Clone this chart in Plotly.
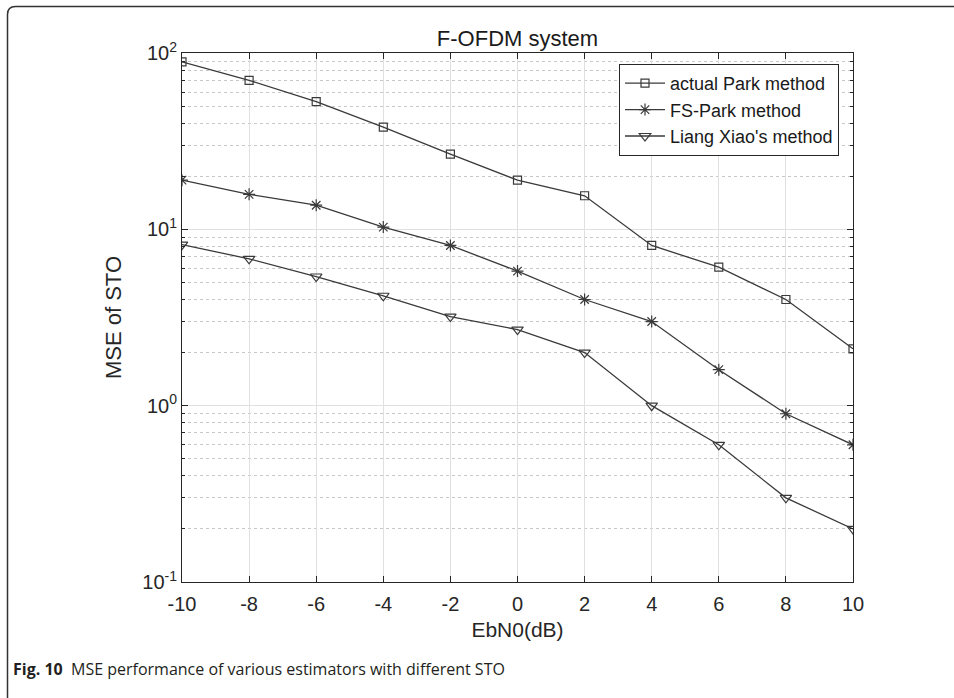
import plotly.graph_objects as go

ebn0 = [-10, -8, -6, -4, -2, 0, 2, 4, 6, 8, 10]
park = [89, 70, 53, 38, 26.7, 19, 15.5, 8.1, 6.1, 4.0, 2.1]
fs_park = [19, 15.8, 13.7, 10.3, 8.1, 5.8, 4.0, 3.0, 1.6, 0.9, 0.6]
liang = [8.2, 6.8, 5.4, 4.2, 3.2, 2.7, 2.0, 1.0, 0.6, 0.3, 0.2]

names = ["actual Park method", "FS-Park method", "Liang Xiao's method"]
symbols = ["square-open", "asterisk-open", "triangle-down-open"]
sizes = [8, 10, 10]

W, H = 954, 698
L, R, T, B = 182, 101, 53, 116
pw, ph = W - L - R, H - T - B
line_col = "#3a3a3a"
font_fam = "Liberation Sans, Arial, sans-serif"

fig = go.Figure()
for ys, nm, sym, sz in zip([park, fs_park, liang], names, symbols, sizes):
    fig.add_trace(go.Scatter(
        x=ebn0, y=ys, name=nm, mode="lines+markers",
        line=dict(color=line_col, width=1.3),
        marker=dict(symbol=sym, size=sz, color=line_col, line=dict(color="#111", width=1.2)),
    ))

ytick_vals = [0.1, 1, 10, 100]
ytick_text = ["10<sup>-1</sup>", "10<sup>0</sup>", "10<sup>1</sup>", "10<sup>2</sup>"]
minor_vals = [m * 10 ** e for e in (-1, 0, 1) for m in range(2, 10)]

fig.update_layout(
    width=W, height=H,
    margin=dict(l=L, r=R, t=T, b=B),
    paper_bgcolor="white", plot_bgcolor="white",
    font=dict(family=font_fam, size=20, color="#262626"),
    title=dict(text="F-OFDM system", x=(L + pw / 2) / W, xanchor="center",
               y=1 - 38 / H, yanchor="middle", font=dict(size=22, color="#1a1a1a")),
    showlegend=True,
    legend=dict(x=(839 - L) / pw, y=1 - (64 - T) / ph, xanchor="right", yanchor="top",
                bgcolor="white", bordercolor="#262626", borderwidth=1,
                font=dict(size=18, color="#1a1a1a"), tracegroupgap=0,
                itemwidth=40),
    xaxis=dict(
        range=[-10, 10], tickvals=ebn0, ticktext=[str(v) for v in ebn0],
        showline=True, linecolor="#262626", linewidth=1, mirror="allticks",
        ticks="inside", ticklen=6, tickcolor="#262626", ticklabelstandoff=4,
        showgrid=True, gridcolor="#e0e0e0", gridwidth=1, zeroline=False,
        title=dict(text="EbN0(dB)", font=dict(size=21), standoff=8),
        tickfont=dict(size=20),
    ),
    yaxis=dict(
        type="log", range=[-1, 2], tickvals=ytick_vals, ticktext=ytick_text,
        showline=True, linecolor="#262626", linewidth=1, mirror="allticks",
        ticks="inside", ticklen=6, tickcolor="#262626",
        showgrid=True, gridcolor="#e0e0e0", gridwidth=1, zeroline=False,
        minor=dict(tickvals=minor_vals, ticks="inside", ticklen=3, tickcolor="#262626",
                   showgrid=True, gridcolor="#c8c8c8", griddash="dot", gridwidth=1),
        title=dict(text="MSE of STO", font=dict(size=22), standoff=14),
        tickfont=dict(size=20),
    ),
)

# outer frame (top and left edges with rounded corner), in paper coordinates
def px(xp):
    return (xp - L) / pw

def py(yp):
    return 1 - (yp - T) / ph

x0, y0, rr = 7.5, 6.5, 8
path = (f"M {px(x0)} {py(H + 2)} L {px(x0)} {py(y0 + rr)} "
        f"Q {px(x0)} {py(y0)} {px(x0 + rr)} {py(y0)} L {px(W + 2)} {py(y0)}")
fig.add_shape(type="path", path=path, xref="paper", yref="paper",
              line=dict(color="#333", width=1.5))

fig.add_annotation(
    text="<b>Fig. 10</b>  MSE performance of various estimators with different STO",
    x=px(11), y=py(669), xref="paper", yref="paper", xanchor="left", yanchor="middle",
    showarrow=False, font=dict(family="Open Sans, Noto Sans, sans-serif", size=16, color="#231f20"),
)

fig.write_html("out.html")
